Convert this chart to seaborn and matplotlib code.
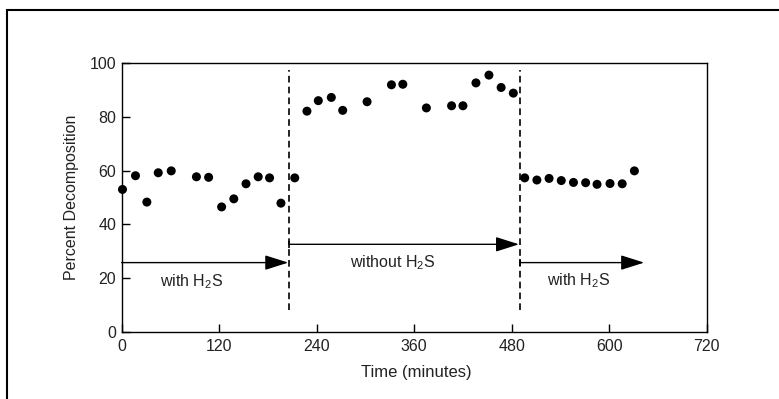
import matplotlib
matplotlib.use("Agg")
import matplotlib.pyplot as plt
import seaborn as sns
import pandas as pd
from matplotlib.patches import Rectangle

# ---- data ----
time_min = [1, 17, 31, 45, 61, 92, 107, 123, 138, 153, 168, 182, 196, 213,
            228, 242, 258, 272, 302, 332, 346, 375, 406, 420, 436, 452, 467, 482,
            496, 511, 526, 541, 556, 571, 585, 601, 616, 631]
pct_decomp = [53.0, 58.1, 48.3, 59.2, 59.9, 57.7, 57.5, 46.5, 49.5, 55.1, 57.7, 57.3, 47.9, 57.3,
              82.1, 86.0, 87.2, 82.4, 85.6, 91.9, 92.1, 83.3, 84.1, 84.1, 92.6, 95.5, 90.9, 88.8,
              57.3, 56.5, 57.1, 56.3, 55.6, 55.5, 54.9, 55.2, 55.1, 59.9]
switch_times = [206, 490]
arrow_start = [0, 206, 490]
arrow_end = [205, 489, 643]
arrow_y = [25.8, 32.6, 25.8]
phase_labels = ["with H$_{\\mathregular{2}}$S", "without H$_{\\mathregular{2}}$S", "with H$_{\\mathregular{2}}$S"]
label_x = [86, 334, 562]
label_y = [18.6, 25.6, 19.2]
x_ticks = [0, 120, 240, 360, 480, 600, 720]
y_ticks = [0, 20, 40, 60, 80, 100]

sns.set_theme(style="ticks")
plt.rcParams['font.family'] = ['Liberation Sans', 'DejaVu Sans']
plt.rcParams['mathtext.fontset'] = 'custom'
plt.rcParams['mathtext.rm'] = 'Liberation Sans'

fig = plt.figure(figsize=(7.79, 3.99), dpi=100)
ax = fig.add_axes([0.1562, 0.1679, 0.7510, 0.6742])

df = pd.DataFrame({"t": time_min, "p": pct_decomp})
sns.scatterplot(data=df, x="t", y="p", ax=ax, color="black", s=42,
                edgecolor="none", zorder=3, clip_on=False)

for st in switch_times:
    ax.vlines(st, 8, 97.5, colors="black", linestyles=(0, (4, 2.5)), lw=1.2)

for i in range(3):
    ax.annotate("", xy=(arrow_end[i], arrow_y[i]), xytext=(arrow_start[i], arrow_y[i]),
                arrowprops=dict(arrowstyle="-|>,head_length=1.2,head_width=0.38",
                                color="black", lw=1.0, shrinkA=0, shrinkB=0))
    if i > 0:
        ax.vlines(arrow_start[i], arrow_y[i] - 1.3, arrow_y[i] + 1.3, colors="black", lw=1.2)
    ax.text(label_x[i], label_y[i], phase_labels[i], ha="center", va="center",
            fontsize=11.5, color="#222222")

ax.set_xlim(0, 720)
ax.set_ylim(0, 100)
ax.set_xticks(x_ticks)
ax.set_yticks(y_ticks)
ax.tick_params(direction="in", length=6, width=1.0, labelsize=11.5, colors="black",
               labelcolor="#222222")
ax.tick_params(axis="x", pad=5)
ax.tick_params(axis="y", pad=4)
for sp in ax.spines.values():
    sp.set_visible(True)
    sp.set_linewidth(1.0)
    sp.set_color("black")

ax.set_xlabel("Time (minutes)", fontsize=12, color="#222222")
ax.set_ylabel("Percent Decomposition", fontsize=11.5, color="#222222")
ax.xaxis.set_label_coords(0.504, -0.122)
ax.yaxis.set_label_coords(-0.073, 0.5)

fig.patches.append(Rectangle((7 / 779, -0.5), 2.0, 1 - 10 / 399 + 0.5,
                             transform=fig.transFigure, fill=False,
                             edgecolor="black", lw=1.5, clip_on=False))

fig.savefig("out.png", dpi=100)
